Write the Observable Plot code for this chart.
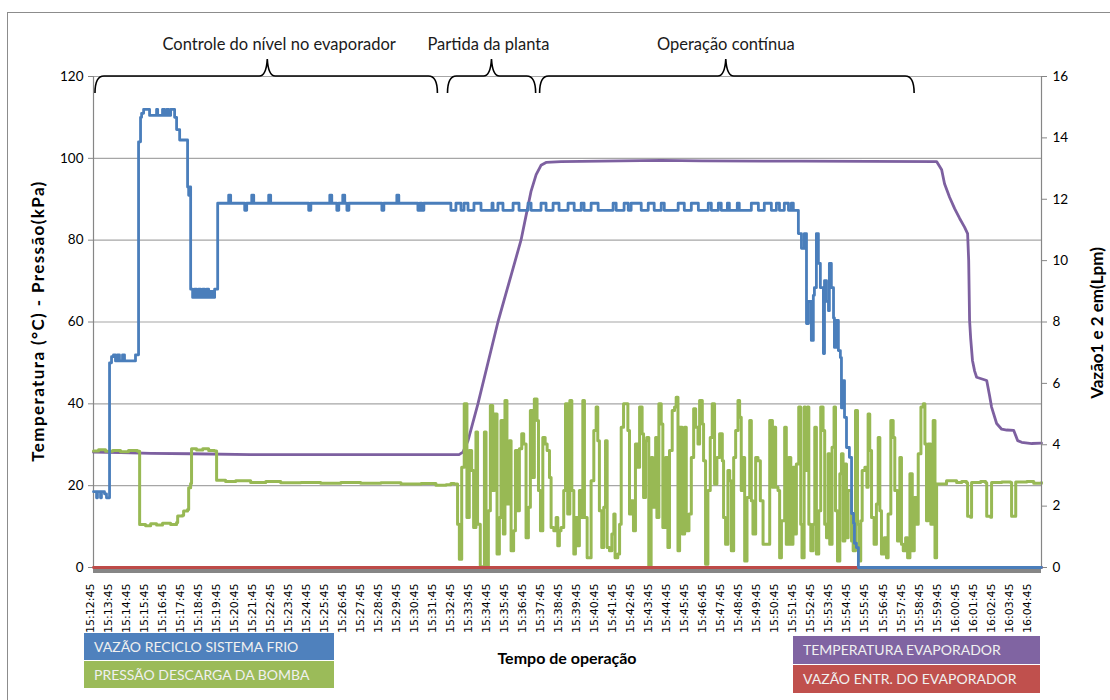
<!DOCTYPE html>
<html><head><meta charset="utf-8">
<script src="https://cdn.jsdelivr.net/npm/d3@7"></script>
<script src="https://cdn.jsdelivr.net/npm/@observablehq/plot@0.6"></script>
<style>
body{margin:0;background:#fff;}
#wrap{position:relative;width:1110px;height:700px;overflow:hidden;background:#fff;font-family:Lato,"Open Sans",sans-serif;}
#wrap svg{position:absolute;left:0;top:0;}
#frame{position:absolute;left:7px;top:12px;width:1300px;height:900px;border:1px solid #8c8c8c;box-sizing:border-box;}
.lg{position:absolute;color:#f0f0f0;font-size:14px;padding-left:10px;box-sizing:border-box;white-space:nowrap;}
.ttl{position:absolute;font-weight:bold;font-size:16px;color:#000;white-space:nowrap;transform:translate(-50%,-50%);}
.rot{transform:translate(-50%,-50%) rotate(-90deg);}
</style></head><body><div id="wrap"><div id="frame"></div></div>
<script>
// ---- tick labels ----
const timeLabels = ["15:12:45","15:13:45","15:14:45","15:15:45","15:16:45","15:17:45","15:18:45","15:19:45","15:20:45","15:21:45","15:22:45","15:23:45","15:24:45","15:25:45","15:26:45","15:27:45","15:28:45","15:29:45","15:30:45","15:31:45","15:32:45","15:33:45","15:34:45","15:35:45","15:36:45","15:37:45","15:38:45","15:39:45","15:40:45","15:41:45","15:42:45","15:43:45","15:44:45","15:45:45","15:46:45","15:47:45","15:48:45","15:49:45","15:50:45","15:51:45","15:52:45","15:53:45","15:54:45","15:55:45","15:56:45","15:57:45","15:58:45","15:59:45","16:00:45","16:01:45","16:02:45","16:03:45","16:04:45"];
const leftTicks = [0,20,40,60,80,100,120];
const rightTicks = [0,2,4,6,8,10,12,14,16];
const timeEnd = 52.6; // minutes after 15:12:45

// ---- phases (minutes after 15:12:45) ----
const phaseLabels = ["Controle do nível no evaporador","Partida da planta","Operação contínua"];
const phaseStart = [0.11,19.67,24.78];
const phaseEnd = [19.11,24.56,45.56];
const phasePeak = [9.67,22.11,35.11];
const phaseLabelAt = [10.33,21.94,35.11];

// ---- series: [minutes after 15:12:45, value] ----
// Temperatura evaporador (°C, left axis)
const temperaturaEvaporador = [[0,28.2],[1.5,28.1],[3.17,27.9],[5.39,27.8],[8.72,27.6],[11.5,27.6],[20.28,27.6],[20.5,28.2],[20.78,31],[21.33,40],[22.44,60],[23.72,80],[24.0,86],[24.28,92],[24.56,96],[24.83,98.3],[25.11,99.0],[25.94,99.2],[28.17,99.3],[31.5,99.5],[33.72,99.4],[39.28,99.3],[46.78,99.2],[47.06,97.2],[47.22,93.8],[47.5,90.5],[47.78,87.7],[48.06,85.3],[48.33,83.2],[48.5,81.6],[48.56,75],[48.61,60.4],[48.67,56],[48.77,50.6],[48.89,48],[49.0,46.5],[49.56,45.7],[49.72,42],[49.83,39.2],[50.11,35.2],[50.39,33.8],[50.67,33.6],[51.06,33.5],[51.28,31],[51.5,30.6],[52.06,30.3],[52.6,30.4]];

// Pressão descarga da bomba (kPa, left axis)
const pressaoControle = [[0,28.5],[0.28,28.8],[0.67,28.4],[1.06,28.6],[1.5,28.3],[1.94,28.6],[2.44,28.4],[2.56,10.5],[2.89,10.2],[3.17,10.7],[3.5,10.4],[3.83,10.8],[4.28,10.5],[4.61,11.0],[4.67,12.6],[4.94,12.8],[5.0,13.8],[5.22,14.2],[5.28,19.5],[5.39,20.5],[5.44,29.0],[5.72,28.7],[6.06,29.0],[6.39,28.6],[6.72,28.5],[6.83,21.3],[7.33,21.0],[7.89,21.2],[8.72,20.8],[9.56,21.0],[10.39,20.7],[11.5,20.8],[12.61,20.6],[13.72,20.8],[14.83,20.6],[15.94,20.7],[17.06,20.4],[18.17,20.5],[19.0,20.1],[19.56,20.2],[19.83,20.5]];
const pressaoOperacao = [[20.02,20.4],[20.20,10.6],[20.30,2.0],[20.43,24.5],[20.57,40.0],[20.72,12.2],[20.85,28.6],[20.98,23.7],[21.09,9.8],[21.22,33.1],[21.31,10.6],[21.46,0.2],[21.69,33.1],[21.78,0.4],[21.91,13.9],[22.02,39.6],[22.15,18.8],[22.24,37.5],[22.39,3.3],[22.52,12.2],[22.61,35.9],[22.74,8.2],[22.83,40.8],[22.94,15.5],[23.07,31.0],[23.17,4.1],[23.31,9.0],[23.41,28.6],[23.54,13.9],[23.63,29.0],[23.76,32.7],[23.87,30.2],[24.00,7.3],[24.13,14.7],[24.24,38.4],[24.37,22.0],[24.46,41.2],[24.61,35.9],[24.69,18.8],[24.80,9.0],[24.93,31.8],[25.06,30.2],[25.17,28.6],[25.30,22.0],[25.39,9.8],[25.54,9.0],[25.67,12.2],[25.76,5.3],[25.85,9.0],[25.94,9.8],[26.09,18.8],[26.19,40.0],[26.31,13.1],[26.43,40.8],[26.54,18.8],[26.65,3.3],[26.74,12.2],[26.87,5.3],[26.96,18.8],[27.06,12.2],[27.15,40.8],[27.24,12.2],[27.39,2.4],[27.52,2.4],[27.61,21.2],[27.76,33.5],[27.89,39.2],[27.98,31.0],[28.07,13.9],[28.20,4.9],[28.31,14.7],[28.41,31.0],[28.50,4.9],[28.63,4.1],[28.76,8.2],[28.87,13.1],[28.94,2.4],
[29.09,3.3],[29.19,10.6],[29.28,34.3],[29.41,40.0],[29.56,40.0],[29.65,33.5],[29.74,13.1],[29.83,16.3],[29.96,9.0],[30.07,30.2],[30.20,24.5],[30.30,39.2],[30.44,32.7],[30.52,17.1],[30.63,31.0],[30.70,31.8],[30.81,0.4],[30.94,26.9],[31.04,14.7],[31.19,31.8],[31.26,12.2],[31.37,40.0],[31.50,35.1],[31.59,9.8],[31.74,26.9],[31.87,4.9],[31.96,28.6],[32.11,38.4],[32.24,39.2],[32.33,41.6],[32.43,4.1],[32.52,34.3],[32.67,8.2],[32.80,34.3],[32.89,9.0],[33.04,13.1],[33.17,26.9],[33.30,38.8],[33.41,34.3],[33.54,30.2],[33.63,40.8],[33.78,35.1],[33.85,26.1],[33.96,0.8],[34.09,18.8],[34.22,31.8],[34.33,40.0],[34.46,20.4],[34.59,26.9],[34.74,32.7],[34.89,26.1],[34.96,12.2],[35.07,5.7],[35.20,23.7],[35.30,21.2],[35.39,4.1],[35.52,26.9],[35.63,33.5],[35.76,40.8],[35.85,36.7],[35.94,18.8],[36.04,26.9],[36.13,1.6],[36.26,17.1],[36.41,35.9],[36.50,16.3],[36.59,8.2],[36.74,26.9],[36.87,26.1],[37.00,16.3],[37.15,5.7],[37.43,5.7],[37.52,35.9],[37.67,19.6],[37.74,34.3],[37.85,19.6],[37.98,18.8],[38.07,2.4],[38.17,11.4],
[38.35,34.3],[38.44,5.7],[38.57,26.9],[38.69,5.7],[38.81,24.5],[38.91,8.2],[39.00,25.3],[39.13,39.2],[39.24,10.6],[39.31,2.4],[39.43,39.2],[39.50,23.7],[39.61,39.2],[39.69,10.6],[39.80,4.1],[39.93,10.6],[40.02,34.3],[40.11,3.3],[40.24,13.9],[40.35,39.2],[40.48,33.5],[40.57,10.6],[40.67,7.3],[40.76,27.8],[40.85,5.7],[40.98,29.4],[41.09,39.2],[41.17,13.9],[41.28,1.6],[41.41,22.9],[41.50,27.8],[41.59,6.5],[41.69,25.3],[41.78,7.3],[41.87,18.8],[42.06,6.5],[42.15,4.1],[42.28,38.4],[42.39,10.6],[42.46,1.6],[42.57,11.4],[42.65,23.7],[42.80,24.5],[42.91,19.6],[42.98,37.5],[43.07,28.6],[43.17,12.2],[43.31,5.7],[43.44,15.5],[43.54,31.8],[43.63,13.9],[43.72,3.3],[43.87,7.3],[44.00,2.4],[44.09,13.1],[44.24,35.9],[44.37,31.8],[44.46,18.8],[44.61,6.5],[44.74,26.9],[44.83,5.7],[44.93,4.1],[45.06,7.3],[45.17,2.4],[45.30,22.9],[45.43,4.1],[45.54,17.1],[45.67,10.6],[45.76,27.8],[45.91,39.2],[46.04,40.0],[46.13,30.2],[46.22,11.4],[46.31,30.2],[46.46,10.6],[46.59,35.9],[46.69,2.4],[46.78,20.4]];
const pressaoFinal = [[47.33,21.2],[47.89,20.8],[48.17,21.0],[48.44,20.7],[48.5,12.5],[48.67,12.3],[48.72,20.8],[49.22,21.0],[49.5,20.7],[49.56,12.5],[49.78,12.3],[49.83,20.8],[50.39,20.9],[50.89,20.8],[50.94,12.5],[51.11,12.5],[51.17,20.9],[51.78,21.0],[52.17,20.6],[52.6,20.8]];

// Vazão reciclo sistema frio (Lpm, right axis)
const vazaoReciclo = [[0,2.47],[0.17,2.27],[0.22,2.47],[0.39,2.27],[0.44,2.47],[0.61,2.4],[0.72,2.27],
[0.89,6.67],[1.0,6.87],[1.11,6.93],[1.22,6.73],[1.33,6.93],[1.44,6.73],[1.61,6.93],[1.72,6.73],[2.33,6.93],
[2.5,13.87],[2.61,14.67],[2.67,14.8],[2.78,14.93],[3.11,14.73],[3.5,14.93],[3.56,14.73],[3.83,14.93],[3.94,14.73],[4.06,14.93],[4.17,14.73],[4.28,14.93],[4.5,14.67],[4.61,14.27],[4.78,13.93],[5.22,12.4],[5.28,12.13],[5.33,12.4],
[5.39,9.07],[5.5,8.8],[5.61,9.07],[5.72,8.8],[5.83,9.07],[5.94,8.8],[6.06,9.07],[6.17,8.8],[6.28,9.07],[6.39,8.8],[6.5,9.0],[6.61,8.8],[6.72,9.07],
[6.89,11.87],[7.5,12.13],[7.61,11.87],[8.39,11.64],[8.5,11.87],[8.78,12.13],[8.89,11.87],[9.72,12.13],[9.83,11.87],[11.94,11.64],[12.06,11.87],[13.11,12.13],[13.22,11.87],[13.5,11.64],[13.61,11.87],[13.83,12.13],[13.94,11.87],[14.06,11.64],[14.17,11.87],[16.0,11.64],[16.11,11.87],[16.83,12.13],[16.94,11.87],[18.0,11.64],[18.11,11.87],[18.22,11.64],[18.33,11.87],
[19.83,11.64],[20.11,11.87],[20.39,11.64],[20.56,11.87],[20.78,11.64],[21.11,11.87],[21.5,11.64],[22.11,11.87],[22.17,11.64],[22.44,11.87],[22.72,11.64],[23.28,11.87],[23.61,11.64],[24.11,11.87],[24.28,11.64],[24.83,11.87],[25.11,11.64],[25.5,11.87],[25.83,11.64],[26.33,11.87],[26.67,11.64],[27.06,11.87],[27.22,11.64],[27.61,11.87],[28.0,11.64],[28.83,11.87],[29.0,11.64],[29.44,11.87],[29.67,11.64],[29.83,11.87],[30.39,11.64],[30.78,11.87],[31.11,11.64],[31.5,11.87],[31.67,11.64],[32.44,11.87],[32.78,11.64],[33.17,11.87],[33.56,11.64],[34.11,11.87],[34.28,11.64],[34.67,11.87],[34.83,11.64],[35.17,11.87],[35.28,11.64],[35.72,11.87],[35.83,11.64],[36.5,11.87],[36.89,11.64],[37.22,11.87],[37.61,11.64],[37.89,11.87],[38.06,11.64],[38.33,11.87],[38.56,11.64],[38.72,11.87],[38.83,11.64],
[39.11,10.88],[39.28,10.4],[39.44,10.88],[39.56,7.95],[39.67,8.67],[39.83,7.4],[39.94,8.87],[40.0,9.12],[40.11,10.88],[40.22,9.91],[40.33,9.12],[40.5,6.97],[40.56,9.35],[40.67,8.67],[40.78,8.37],[40.83,9.91],[40.94,9.12],[41.06,8.13],[41.11,7.17],[41.22,8.05],[41.33,7.07],[41.44,6.84],[41.5,5.2],[41.61,6.09],[41.67,4.89],[41.78,3.91],[41.94,3.59],[42.06,1.76],[42.17,1.44],[42.22,0.79],[42.33,0.65],[42.44,0],[52.6,0]];

// Vazão entrada do evaporador (Lpm, right axis)
const vazaoEntrada = [[0,0],[52.6,0]];

// ---- colours ----
const cBlue="#4A7EBB", cGreen="#98B954", cPurple="#7D60A0", cRed="#BE4B48";

const W=1110,H=700,ML=93,MR=69,MT=76,MB=133;
const common = {width:W,height:H,marginLeft:ML,marginRight:MR,marginTop:MT,marginBottom:MB};
const px = d=>d[0], py = d=>d[1];

const chart1 = Plot.plot({
  ...common,
  style:{background:"transparent",fontFamily:"Lato, sans-serif",fontSize:"13.5px",color:"#000",overflow:"visible"},
  x:{domain:[0,timeEnd],axis:null},
  y:{domain:[0,120],ticks:leftTicks,tickSize:5,tickPadding:5,label:null,tickFormat:d=>String(d)},
  marks:[
    Plot.ruleY(leftTicks.filter(d=>d>0),{stroke:"#a6a6a6",strokeWidth:1.2}),
    Plot.ruleX([0],{y1:0,y2:120,stroke:"#868686",strokeWidth:1.2}),
    Plot.ruleY([0],{stroke:"#868686",strokeWidth:5,dy:3}),
    Plot.line(temperaturaEvaporador,{x:px,y:py,stroke:cPurple,strokeWidth:2.8}),
    Plot.line(pressaoControle.concat(pressaoOperacao,pressaoFinal),{x:px,y:py,stroke:cGreen,strokeWidth:3,curve:"step-after"}),
    Plot.text(timeLabels,{x:(d,i)=>i,frameAnchor:"bottom",dy:16,rotate:-90,textAnchor:"end",fontFamily:"DejaVu Sans",fontSize:11,fill:"#000"})
  ]
});

const chart2 = Plot.plot({
  ...common,
  style:{background:"transparent",fontFamily:"Lato, sans-serif",fontSize:"13.5px",color:"#000",overflow:"visible"},
  x:{domain:[0,timeEnd],axis:null},
  y:{domain:[0,16],axis:"right",ticks:rightTicks,tickSize:5,tickPadding:6,label:null,tickFormat:d=>String(d)},
  marks:[
    Plot.ruleX([timeEnd],{y1:0,y2:16,stroke:"#868686",strokeWidth:1.2}),
    Plot.line(vazaoEntrada,{x:px,y:py,stroke:cRed,strokeWidth:2.8}),
    Plot.line(vazaoReciclo,{x:px,y:py,stroke:cBlue,strokeWidth:2.8,curve:"step-after"})
  ]
});

const wrap = document.getElementById("wrap");
wrap.appendChild(chart1);
wrap.appendChild(chart2);

// grey tick marks
for (const c of [chart1,chart2]) {
  c.querySelectorAll('[aria-label$="axis tick"]').forEach(g=>{g.setAttribute("stroke","#868686");g.querySelectorAll("path,line").forEach(p=>p.setAttribute("stroke","#868686"));});
  c.querySelectorAll('g[aria-label$="-axis"] line').forEach(l=>l.setAttribute("stroke","#868686"));
}

// braces + phase labels
const sx = chart1.scale("x"), sy = chart1.scale("y");
const X = sx.apply ? v=>sx.apply(v) : d3.scaleLinear(sx.domain, sx.range);
const Y = sy.apply ? v=>sy.apply(v) : d3.scaleLinear(sy.domain, sy.range);
const yb = Y(120);
const gb = d3.select(chart1).append("g");
phaseLabels.forEach((lab,i)=>{
  const x0=X(phaseStart[i]), x1=X(phaseEnd[i]), xm=X(phasePeak[i]);
  const d = `M${x0},${yb+17} Q${x0},${yb} ${x0+9},${yb} L${xm-8},${yb} Q${xm-1},${yb} ${xm},${yb-17} Q${xm+1},${yb} ${xm+8},${yb} L${x1-9},${yb} Q${x1},${yb} ${x1},${yb+17}`;
  gb.append("path").attr("d",d).attr("fill","none").attr("stroke","#000").attr("stroke-width",1.6);
  gb.append("text").attr("x",X(phaseLabelAt[i])).attr("y",yb-26).attr("text-anchor","middle")
    .attr("font-family","Lato, sans-serif").attr("font-size",16.5).attr("fill","#1a1a1a").text(lab);
});

// axis titles
function addDiv(cls, text, css){const d=document.createElement("div");d.className=cls;d.textContent=text;Object.assign(d.style,css);wrap.appendChild(d);return d;}
addDiv("ttl rot","Temperatura (°C) - Pressão(kPa)",{left:"37px",top:"321px",fontSize:"17px",letterSpacing:"1.4px"});
addDiv("ttl rot","Vazão1 e 2 em(Lpm)",{left:"1096px",top:"323px",fontSize:"17px"});
addDiv("ttl","Tempo de operação",{left:"567px",top:"657px"});

// legend
const legend = [
  {label:"VAZÃO RECICLO SISTEMA FRIO",color:"#4F81BD",left:84,top:633,w:250,h:27},
  {label:"PRESSÃO DESCARGA DA BOMBA",color:"#9BBB59",left:84,top:661,w:250,h:27},
  {label:"TEMPERATURA EVAPORADOR",color:"#8064A2",left:793,top:636,w:247,h:28},
  {label:"VAZÃO ENTR. DO EVAPORADOR",color:"#C0504D",left:793,top:665,w:247,h:28}
];
legend.forEach(l=>addDiv("lg",l.label,{left:l.left+"px",top:l.top+"px",width:l.w+"px",height:l.h+"px",lineHeight:l.h+"px",background:l.color}));
</script>
</body></html>
